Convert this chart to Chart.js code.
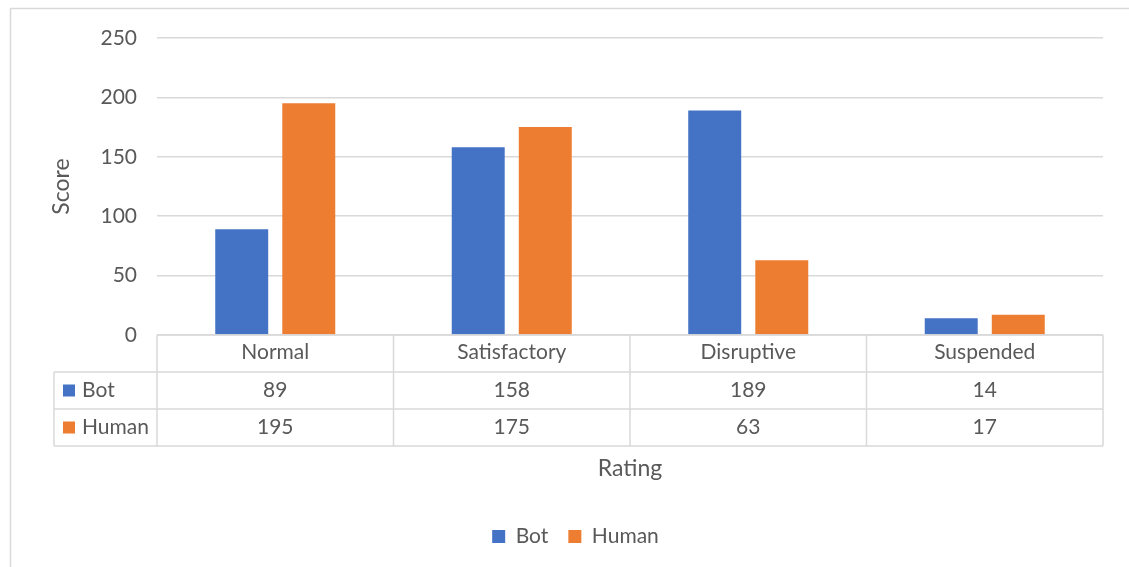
<!DOCTYPE html>
<html>
<head>
<meta charset="utf-8">
<script src="https://cdn.jsdelivr.net/npm/chart.js@4.4.1/dist/chart.umd.min.js"></script>
<style>
  html, body { margin: 0; padding: 0; background: #fff; }
  #wrap { width: 1129px; height: 567px; }
</style>
</head>
<body>
<div id="wrap"><canvas id="scoreChart" width="1129" height="567"></canvas></div>
<script>
const categories = ["Normal", "Satisfactory", "Disruptive", "Suspended"];
const botScores = [89, 158, 189, 14];
const humanScores = [195, 175, 63, 17];
const yTicks = [0, 50, 100, 150, 200, 250];

const textColor = "#595959";
const lineColor = "#d9d9d9";
const fontFamily = "Lato, 'Noto Sans', sans-serif";
const fontSize = 21;
const titleSize = 23;
const rowHeight = 37;

const seriesRows = [
    { name: "Bot", color: "#4472C4", values: botScores },
    { name: "Human", color: "#ED7D31", values: humanScores }
];

// draws outer frame + the data table under the plot
const dataTablePlugin = {
    id: "dataTable",
    beforeDraw(chart) {
        const ctx = chart.ctx;
        ctx.save();
        ctx.strokeStyle = lineColor;
        ctx.lineWidth = 1.5;
        ctx.strokeRect(10.5, 8.5, 1400, 800);
        ctx.restore();
    },
    afterDraw(chart) {
        const ctx = chart.ctx;
        const x = chart.scales.x;
        const area = chart.chartArea;
        const top = area.bottom;
        const step = x.getPixelForValue(1) - x.getPixelForValue(0);
        const left = area.left;
        const right = area.right;
        const tableLeft = 54;
        const bottom = top + rowHeight * 3;

        ctx.save();
        ctx.strokeStyle = lineColor;
        ctx.lineWidth = 1.5;
        ctx.beginPath();
        // horizontal lines
        ctx.moveTo(left, top); ctx.lineTo(right, top);
        for (let r = 1; r <= 3; r++) {
            ctx.moveTo(tableLeft, top + rowHeight * r);
            ctx.lineTo(right, top + rowHeight * r);
        }
        // vertical lines
        for (let i = 0; i <= categories.length; i++) {
            const px = x.getPixelForValue(0) - step / 2 + step * i;
            ctx.moveTo(px, top); ctx.lineTo(px, bottom);
        }
        ctx.moveTo(tableLeft, top + rowHeight); ctx.lineTo(tableLeft, bottom);
        ctx.stroke();

        ctx.font = fontSize + "px " + fontFamily;
        ctx.fillStyle = textColor;
        ctx.textBaseline = "middle";
        seriesRows.forEach((row, r) => {
            const cy = top + rowHeight * (r + 1.5);
            ctx.fillStyle = row.color;
            ctx.fillRect(tableLeft + 9, cy - 6, 12, 12);
            ctx.fillStyle = textColor;
            ctx.textAlign = "left";
            ctx.fillText(row.name, tableLeft + 28, cy);
            ctx.textAlign = "center";
            row.values.forEach((v, i) => {
                ctx.fillText(String(v), x.getPixelForValue(i), cy);
            });
        });
        ctx.restore();
    }
};

new Chart(document.getElementById("scoreChart"), {
    type: "bar",
    data: {
        labels: categories,
        datasets: seriesRows.map(row => ({
            label: row.name,
            data: row.values,
            backgroundColor: row.color,
            borderWidth: 0,
            categoryPercentage: 0.567,
            barPercentage: 0.79
        }))
    },
    options: {
        responsive: false,
        animation: false,
        layout: { padding: { left: 48, right: 26, top: 38, bottom: 10 } },
        plugins: {
            tooltip: { enabled: false },
            legend: {
                position: "bottom",
                labels: {
                    boxWidth: 13,
                    boxHeight: 13,
                    color: textColor,
                    padding: 20,
                    font: { family: fontFamily, size: fontSize }
                }
            }
        },
        scales: {
            x: {
                grid: { display: false, drawTicks: false },
                border: { display: false },
                ticks: {
                    color: textColor,
                    padding: 5,
                    font: { family: fontFamily, size: fontSize }
                },
                title: {
                    display: true,
                    text: "Rating",
                    color: textColor,
                    padding: { top: 0, bottom: 24 },
                    font: { family: fontFamily, size: titleSize }
                },
                afterFit(scale) { scale.height = 171; }
            },
            y: {
                min: 0,
                max: 250,
                afterBuildTicks(scale) { scale.ticks = yTicks.map(v => ({ value: v })); },
                grid: { color: lineColor, lineWidth: 1.5, drawTicks: false },
                border: { display: false },
                ticks: {
                    color: textColor,
                    padding: 20,
                    font: { family: fontFamily, size: fontSize }
                },
                title: {
                    display: true,
                    text: "Score",
                    color: textColor,
                    padding: 0,
                    font: { family: fontFamily, size: titleSize }
                },
                afterFit(scale) { scale.width = 109; }
            }
        }
    },
    plugins: [dataTablePlugin]
});
</script>
</body>
</html>
